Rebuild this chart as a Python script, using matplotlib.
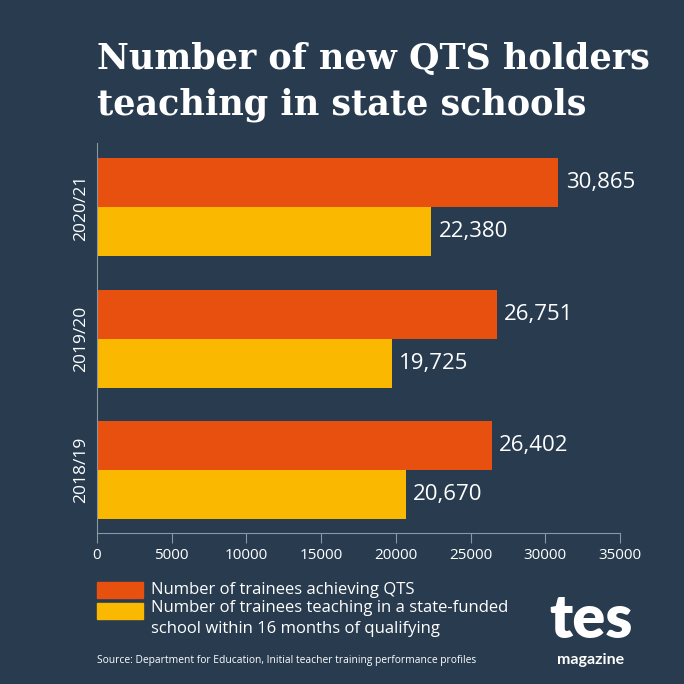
import numpy as np
import matplotlib.pyplot as plt
from matplotlib.patches import Rectangle

# Data
years = ["2018/19", "2019/20", "2020/21"]
qts = [26402, 26751, 30865]
teaching = [20670, 19725, 22380]
legend_labels = ["Number of trainees achieving QTS",
                 "Number of trainees teaching in a state-funded\nschool within 16 months of qualifying"]
xticks = [0, 5000, 10000, 15000, 20000, 25000, 30000, 35000]

bg = "#283b4f"
orange = "#e8500f"
yellow = "#fbb800"
grey = "#8c97a3"
sans = ["Open Sans", "DejaVu Sans"]

fig = plt.figure(figsize=(6.84, 6.84), dpi=100, facecolor=bg)
ax = fig.add_axes([0.1418, 0.2208, 0.7646, 0.5701], facecolor=bg)

y = np.arange(len(years))
h = 0.374
ax.barh(y + h / 2, qts, height=h, color=orange)
ax.barh(y - h / 2, teaching, height=h, color=yellow)

for yi, v in zip(y, qts):
    ax.text(v + 500, yi + h / 2, f"{v:,}", color="white", va="center", ha="left",
            fontsize=16, family=sans)
for yi, v in zip(y, teaching):
    ax.text(v + 500, yi - h / 2, f"{v:,}", color="white", va="center", ha="left",
            fontsize=16, family=sans)

ax.set_xlim(0, 35000)
ax.set_ylim(-0.48, 2.49)
ax.set_xticks(xticks)
ax.set_xticklabels([str(t) for t in xticks], family=sans, fontsize=11, color="white")
ax.set_yticks(y)
ax.set_yticklabels(years, rotation=90, va="center", family=sans, fontsize=12.5, color="white")
ax.tick_params(axis="x", length=7, color=grey, width=0.8, pad=4)
ax.tick_params(axis="y", length=0, pad=6)
for s in ["top", "right"]:
    ax.spines[s].set_visible(False)
for s in ["left", "bottom"]:
    ax.spines[s].set_color(grey)
    ax.spines[s].set_linewidth(0.8)

# title
title_lines = ["Number of new QTS holders", "teaching in state schools"]
for line, base in zip(title_lines, [69, 115]):
    fig.text(97 / 684, 1 - base / 684, line, color="white", fontsize=25.2,
             fontweight="bold", family="DejaVu Serif", va="baseline", ha="left")

# legend
fig.patches.append(Rectangle((97 / 684, 1 - 598 / 684), 46 / 684, 16 / 684,
                             transform=fig.transFigure, color=orange))
fig.patches.append(Rectangle((97 / 684, 1 - 619 / 684), 46 / 684, 16 / 684,
                             transform=fig.transFigure, color=yellow))
fig.text(151 / 684, 1 - 590 / 684, legend_labels[0], color="white", fontsize=12,
         family=sans, va="center", ha="left")
fig.text(151 / 684, 1 - 600 / 684, legend_labels[1], color="white", fontsize=12,
         family=sans, va="top", ha="left", linespacing=1.42)

fig.text(97 / 684, 1 - 660 / 684,
         "Source: Department for Education, Initial teacher training performance profiles",
         color="white", fontsize=7.4, family=sans, va="center", ha="left")

# logo
fig.text(591 / 684, 1 - 638 / 684, "tes", color="white", fontsize=44, fontweight="heavy",
         family=["Lato", "DejaVu Sans"], ha="center", va="baseline")
fig.text(591 / 684, 1 - 664 / 684, "magazine", color="white", fontsize=11.5, fontweight="bold",
         family=["Lato", "DejaVu Sans"], ha="center", va="baseline")

fig.savefig("out.png", dpi=100, facecolor=bg)
